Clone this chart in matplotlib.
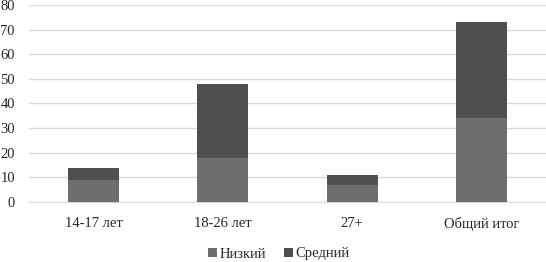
import matplotlib
matplotlib.use('Agg')
from matplotlib import pyplot as plt
import numpy as np

# data
categories = ['14-17 лет', '18-26 лет', '27+', 'Общий итог']
low = [9, 18, 7, 34]       # Низкий
mid = [5, 30, 4, 39]       # Средний
series_names = ['Низкий', 'Средний']
yticks = [0, 10, 20, 30, 40, 50, 60, 70, 80]

plt.rcParams['font.family'] = ['Liberation Serif', 'DejaVu Serif']

fig = plt.figure(figsize=(5.46, 2.62), dpi=100)
ax = fig.add_axes([0.0527, 0.229, 0.9473, 0.752])

x = np.arange(len(categories))
w = 0.395
ax.bar(x, low, w, color='#6e6e6e', label=series_names[0], zorder=3)
ax.bar(x, mid, w, bottom=low, color='#4f4f4f', label=series_names[1], zorder=3)

ax.set_xlim(-0.5, len(categories) - 0.5)
ax.set_ylim(0, 80)
ax.set_yticks(yticks)
ax.set_xticks(x)
ax.set_xticklabels(categories)

ax.grid(axis='y', color='#d9d9d9', linewidth=1, zorder=0)
for s in ['top', 'right', 'left']:
    ax.spines[s].set_visible(False)
ax.spines['bottom'].set_color('#d9d9d9')
ax.tick_params(axis='both', length=0, labelsize=10.5, colors='#262626')
ax.tick_params(axis='y', pad=10)
ax.tick_params(axis='x', pad=11)

fig.legend(loc='center', bbox_to_anchor=(279 / 546, 1 - 254 / 262), ncol=2,
           frameon=False, fontsize=10.5, handlelength=0.6, handleheight=0.6,
           handletextpad=0.2, columnspacing=1.2, labelcolor='#262626')

fig.savefig('out.png', dpi=100)
